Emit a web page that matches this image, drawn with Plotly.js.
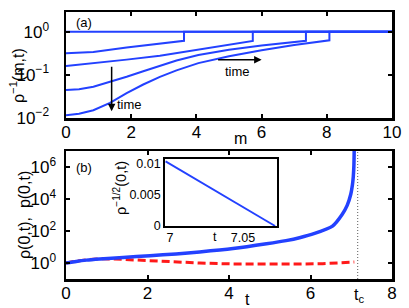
<!DOCTYPE html>
<html>
<head>
<meta charset="utf-8">
<script src="https://cdn.plot.ly/plotly-3.0.1.min.js"></script>
<style>html,body{margin:0;padding:0;background:#fff;}#chart{width:409px;height:308px;}</style>
</head>
<body>
<div id="chart"></div>
<script>
// ---------- Data ----------
// Panel (a): rho^-1(m,t) profiles at successive times
var m0 = [0, 10];
var r0 = [1, 1];
var m1 = [0, 0.84, 1.86, 2.88, 3.62, 3.62, 10];
var r1 = [0.316, 0.339, 0.427, 0.537, 0.617, 1, 1];
var m2 = [0, 0.84, 1.86, 2.88, 4.06, 5.0, 5.73, 5.73, 10];
var r2 = [0.158, 0.188, 0.224, 0.275, 0.389, 0.501, 0.610, 1, 1];
var m3 = [0, 0.4, 0.84, 1.35, 1.86, 2.37, 2.88, 3.39, 4.06, 5, 6, 7, 7.36, 7.36, 10];
var r3 = [0.0437, 0.0457, 0.0525, 0.0676, 0.0891, 0.120, 0.162, 0.214, 0.288, 0.380, 0.479, 0.575, 0.617, 1, 1];
var m4 = [0, 0.4, 0.84, 1.35, 1.86, 2.37, 2.88, 3.39, 4.06, 5, 6, 7, 8.08, 8.08, 10];
var r4 = [0.01135, 0.0123, 0.0148, 0.0219, 0.0372, 0.0589, 0.0891, 0.126, 0.186, 0.269, 0.372, 0.490, 0.631, 1, 1];

// Panel (b): rho(0,t) (solid) and p(0,t) (dashed)
var tRho = [0, 0.25, 0.5, 0.83, 1.4, 2.06, 2.7, 3.28, 4.1, 4.92, 5.4, 5.73, 6.1, 6.54, 6.78, 6.9, 6.99, 7.03, 7.05, 7.065, 7.075];
var rho0 = [1, 1.259, 1.514, 1.778, 2.239, 2.884, 3.715, 4.898, 7.943, 15.85, 25.12, 38.02, 70.79, 204.2, 1122, 3981, 20417, 79433, 251189, 1258925, 31622777];
var tP = [0, 0.2, 0.5, 0.83, 1.2, 1.57, 2.06, 2.7, 3.28, 4.1, 4.9, 5.73, 6.3, 6.8, 7.0, 7.075];
var p0 = [1, 1.259, 1.585, 1.820, 1.778, 1.585, 1.318, 1.122, 1, 0.871, 0.851, 0.871, 0.912, 1, 1.072, 1.148];
var tc = 7.157;
var tcLineY = [0.1, 1e7];

// Inset: rho^-1/2(0,t)
var tInset = [6.997, 7.072];
var rInset = [0.01042, 0];

// Tick labels
var aTickVals = [0.01, 0.1, 1];
var aTickText = ['10<sup>−2</sup>', '10<sup>−1</sup>', '10<sup>0</sup>'];
var bTickVals = [1, 100, 10000, 1000000];
var bTickText = ['10<sup>0</sup>', '10<sup>2</sup>', '10<sup>4</sup>', '10<sup>6</sup>'];
var mTicks = [0, 2, 4, 6, 8, 10];
var tTicks = [0, 2, 4, 6, 8];
var insetYTicks = [0, 0.005, 0.01];
var insetYText = ['0', '0.005', '0.01'];
var insetXTicks = [7, 7.05];
var insetXText = ['7', '7.05'];

// ---------- Drawing ----------
var BLUE = 'rgb(35,65,255)';
var RED = 'rgb(255,25,25)';
var FONT = 'Liberation Sans, Arial, Helvetica, sans-serif';

function lineA(x, y) {
  return {x: x, y: y, xaxis: 'x', yaxis: 'y', mode: 'lines', line: {color: BLUE, width: 2}, hoverinfo: 'skip'};
}
var traces = [
  lineA(m0, r0), lineA(m1, r1), lineA(m2, r2), lineA(m3, r3), lineA(m4, r4),
  {x: [tc, tc], y: tcLineY, xaxis: 'x2', yaxis: 'y2', mode: 'lines', line: {color: '#777', width: 1.2, dash: '1px,2px'}},
  {x: tP, y: p0, xaxis: 'x2', yaxis: 'y2', mode: 'lines', line: {color: RED, width: 3, dash: '8px,4px'}},
  {x: tRho, y: rho0, xaxis: 'x2', yaxis: 'y2', mode: 'lines', line: {color: BLUE, width: 3.5, shape: 'spline', smoothing: 0.6}},
  {x: tInset, y: rInset, xaxis: 'x3', yaxis: 'y3', mode: 'lines', line: {color: BLUE, width: 1.8}}
];

var L = 66, R = 17, T = 12, B = 29, W = 409, H = 308;
var PW = W - L - R, PH = H - T - B;
function px(xp) { return (xp - L) / PW; }
function py(yp) { return (H - B - yp) / PH; }

var axCommon = {
  showline: true, linecolor: '#000', linewidth: 2.5, mirror: 'ticks',
  ticks: 'inside', ticklen: 4, tickwidth: 2, tickcolor: '#000',
  showgrid: false, zeroline: false,
  tickfont: {family: FONT, size: 17, color: '#000'}
};
function ax(o) { return Object.assign({}, axCommon, o); }

var layout = {
  width: W, height: H,
  margin: {l: L, r: R, t: T, b: B, pad: 0},
  paper_bgcolor: '#fff', plot_bgcolor: '#fff',
  showlegend: false,
  font: {family: FONT, color: '#000'},
  xaxis: ax({domain: [0, 1], anchor: 'y', range: [0, 10], tickvals: mTicks, ticklabelstandoff: -3}),
  yaxis: ax({domain: [py(118), py(12)], anchor: 'x', type: 'log', range: [-2.01, 0.46],
    tickvals: aTickVals, ticktext: aTickText, ticklabelstandoff: 11}),
  xaxis2: ax({domain: [0, 1], anchor: 'y2', range: [0, 8], tickvals: tTicks, ticklabelstandoff: -3}),
  yaxis2: ax({domain: [0, py(151)], anchor: 'x2', type: 'log', range: [-1, 7],
    tickvals: bTickVals, ticktext: bTickText, ticklabelstandoff: 4}),
  xaxis3: {domain: [px(165), px(276.7)], anchor: 'y3', range: [6.9966, 7.0731],
    showline: true, linecolor: '#000', linewidth: 1.8, mirror: true, ticks: '', showgrid: false, zeroline: false,
    ticklabelstandoff: -1,
    tickvals: insetXTicks, ticktext: insetXText, tickfont: {family: FONT, size: 12.5, color: '#000'}},
  yaxis3: {domain: [py(226), py(159)], anchor: 'x3', range: [0, 0.0108],
    showline: true, linecolor: '#000', linewidth: 1.8, mirror: true, ticks: '', showgrid: false, zeroline: false,
    tickvals: insetYTicks, ticktext: insetYText, tickfont: {family: FONT, size: 12.5, color: '#000'}},
  annotations: [
    {xref: 'paper', yref: 'paper', x: px(17), y: py(76), text: 'ρ<sup>−1</sup>(m,t)', textangle: -90,
      showarrow: false, xanchor: 'center', yanchor: 'middle', font: {size: 16}},
    {xref: 'paper', yref: 'paper', x: px(240), y: py(138), text: 'm', showarrow: false,
      xanchor: 'center', yanchor: 'middle', font: {size: 16}},
    {xref: 'paper', yref: 'paper', x: px(84), y: py(23), text: '(a)', showarrow: false,
      xanchor: 'center', yanchor: 'middle', font: {size: 13}},
    {xref: 'paper', yref: 'paper', x: px(84), y: py(167), text: '(b)', showarrow: false,
      xanchor: 'center', yanchor: 'middle', font: {size: 13}},
    {xref: 'paper', yref: 'paper', x: px(24), y: py(215), text: 'ρ(0,t),  p(0,t)', textangle: -90,
      showarrow: false, xanchor: 'center', yanchor: 'middle', font: {size: 16}},
    {xref: 'paper', yref: 'paper', x: px(247), y: py(299), text: 't', showarrow: false,
      xanchor: 'center', yanchor: 'middle', font: {size: 16}},
    {xref: 'paper', yref: 'paper', x: px(359), y: py(295), text: 't<sub>c</sub>', showarrow: false,
      xanchor: 'center', yanchor: 'middle', font: {size: 16}},
    {xref: 'paper', yref: 'paper', x: px(120), y: py(188), text: 'ρ<sup>−1/2</sup>(0,t)', textangle: -90,
      showarrow: false, xanchor: 'center', yanchor: 'middle', font: {size: 14.5}},
    {xref: 'paper', yref: 'paper', x: px(215), y: py(237), text: 't', showarrow: false,
      xanchor: 'center', yanchor: 'middle', font: {size: 12.5}},
    // arrows labelled "time"
    {xref: 'x', yref: 'y', x: 1.40, y: -1.85, ax: 0, ay: -46, text: '', showarrow: true,
      arrowhead: 2, arrowsize: 1, arrowwidth: 1.5, arrowcolor: '#000'},
    {xref: 'paper', yref: 'paper', x: px(129), y: py(105), text: 'time', showarrow: false,
      xanchor: 'center', yanchor: 'middle', font: {size: 13}},
    {xref: 'x', yref: 'y', x: 6.0, y: -0.65, ax: -45, ay: 0, text: '', showarrow: true,
      arrowhead: 2, arrowsize: 1, arrowwidth: 1.5, arrowcolor: '#000'},
    {xref: 'paper', yref: 'paper', x: px(237), y: py(71.5), text: 'time', showarrow: false,
      xanchor: 'center', yanchor: 'middle', font: {size: 13}}
  ]
};

Plotly.newPlot('chart', traces, layout, {displayModeBar: false, staticPlot: true});
</script>
</body>
</html>
